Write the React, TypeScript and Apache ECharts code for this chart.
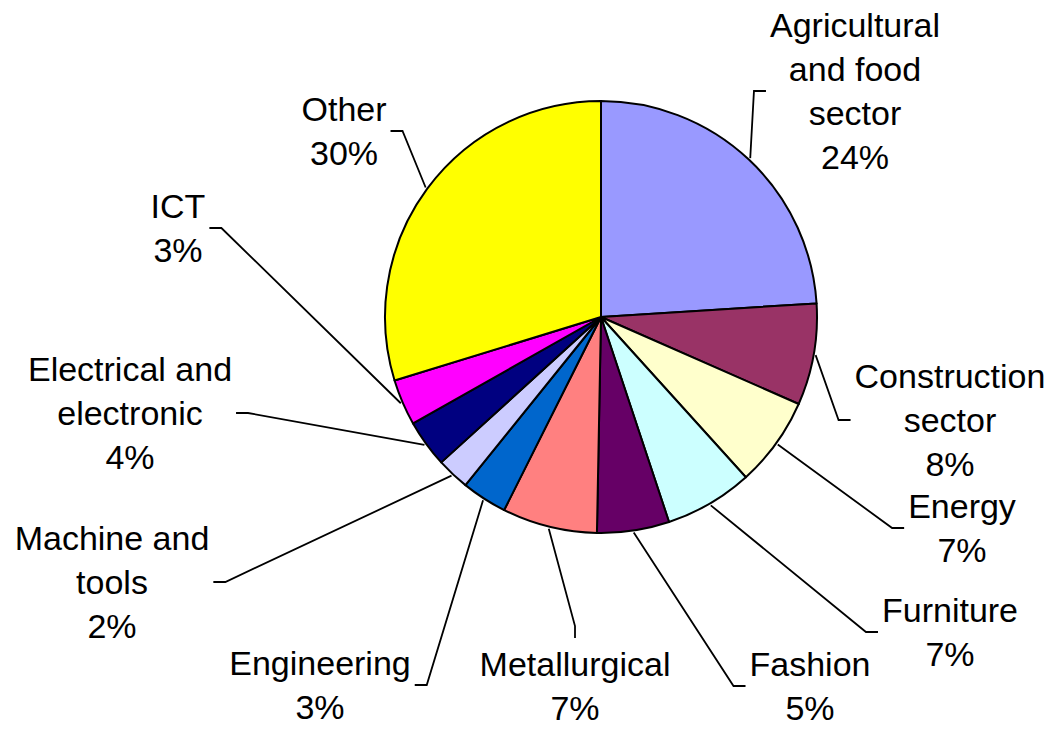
import React, { useEffect, useRef } from "react";
import * as echarts from "echarts";

// Data
const categories = [
  "Agricultural\nand food\nsector",
  "Construction\nsector",
  "Energy",
  "Furniture",
  "Fashion",
  "Metallurgical",
  "Engineering",
  "Machine and\ntools",
  "Electrical and\nelectronic",
  "ICT",
  "Other",
];
const values = [24.0, 7.6, 6.7, 6.6, 5.4, 7.1, 3.4, 2.45, 3.55, 3.45, 29.75];

// Styles / layout (kept apart from the data)
const colors = [
  "#9999FF",
  "#993366",
  "#FFFFCC",
  "#CCFFFF",
  "#660066",
  "#FF8080",
  "#0066CC",
  "#CCCCFF",
  "#000080",
  "#FF00FF",
  "#FFFF00",
];
const labelCenters: number[][] = [
  [855, 91],
  [950, 420],
  [962, 528],
  [950, 632],
  [810, 686],
  [575, 686],
  [320, 685],
  [112, 582],
  [130, 413],
  [178, 228],
  [344, 131],
];
const labelSides = ["left", "left", "left", "left", "left", "top", "right", "right", "right", "right", "right"];

export default function App() {
  const ref = useRef<HTMLDivElement>(null);
  useEffect(() => {
    if (!ref.current) return;
    const chart = echarts.init(ref.current, null, { renderer: "svg" });
    chart.setOption({
      animation: false,
      backgroundColor: "#ffffff",
      series: [
        {
          type: "pie",
          center: [601, 317],
          radius: 216,
          startAngle: 90,
          clockwise: true,
          avoidLabelOverlap: false,
          percentPrecision: 0,
          silent: true,
          data: categories.map((name, i) => ({
            name,
            value: values[i],
            itemStyle: { color: colors[i] },
          })),
          itemStyle: { borderColor: "#000000", borderWidth: 2 },
          label: {
            show: true,
            position: "outside",
            formatter: "{b}\n{d}%",
            color: "#000000",
            fontFamily: "'Liberation Sans', Arial, sans-serif",
            fontSize: 34,
            lineHeight: 44,
          },
          labelLine: {
            show: true,
            length: 10,
            length2: 10,
            smooth: false,
            lineStyle: { color: "#000000", width: 1.8 },
          },
          emphasis: { disabled: true },
          labelLayout: (p: any) => {
            const i = p.dataIndex;
            const cx = labelCenters[i][0];
            const cy = labelCenters[i][1];
            const w = p.labelRect.width;
            const h = p.labelRect.height;
            const side = labelSides[i];
            let end: number[];
            let elbow: number[];
            if (side === "left") {
              end = [cx - w / 2 - 4, cy];
              elbow = [end[0] - 12, cy];
            } else if (side === "right") {
              end = [cx + w / 2 + 4, cy];
              elbow = [end[0] + 12, cy];
            } else {
              end = [cx, cy - h / 2 - 4];
              elbow = [cx, end[1] - 12];
            }
            const pts = p.labelLinePoints;
            let start = elbow;
            if (pts && pts.length >= 2) {
              const dx = pts[1][0] - pts[0][0];
              const dy = pts[1][1] - pts[0][1];
              const L = Math.hypot(dx, dy) || 1;
              start = [pts[0][0] + (dx / L) * 2, pts[0][1] + (dy / L) * 2];
            }
            return {
              x: cx,
              y: cy,
              align: "center",
              verticalAlign: "middle",
              labelLinePoints: [start, elbow, end],
            };
          },
        },
      ],
    });
    return () => chart.dispose();
  }, []);
  return (
    <div
      ref={ref}
      style={{ position: "absolute", left: 0, top: 0, width: 1055, height: 731 }}
    />
  );
}
